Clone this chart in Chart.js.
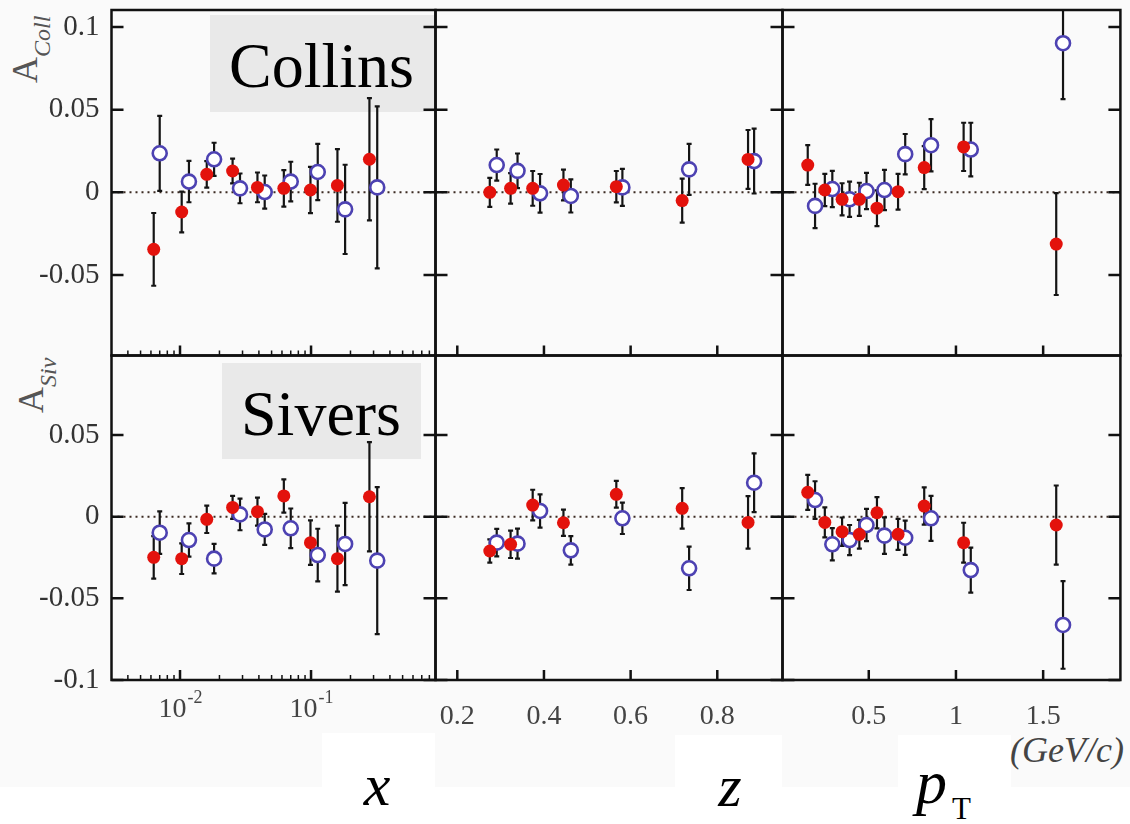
<!DOCTYPE html>
<html><head><meta charset="utf-8">
<script src="https://cdn.jsdelivr.net/npm/chart.js@4.4.1/dist/chart.umd.min.js"></script>
<style>
html,body{margin:0;padding:0;background:#fff;}
#page{position:relative;width:1130px;height:824px;overflow:hidden;font-family:'Liberation Serif','Times New Roman',serif;}
.abs{position:absolute;white-space:nowrap;}
canvas{position:absolute;left:0;top:0;}
</style></head><body><div id="page">
<div class="abs" style="left:0;top:0;width:1130px;height:787px;background:#fafafa"></div>
<div class="abs" style="left:322px;top:733px;width:113px;height:91px;background:#fff"></div>
<div class="abs" style="left:675px;top:735px;width:107px;height:89px;background:#fff"></div>
<div class="abs" style="left:898px;top:735px;width:113px;height:89px;background:#fff"></div>

<div class="abs" style="left:210px;top:15px;width:225px;height:97px;background:#e9e9e9"></div>
<div class="abs" style="left:229px;top:34px;font-size:64px;line-height:64px;color:#000">Collins</div>
<div class="abs" style="left:222px;top:363px;width:199px;height:96px;background:#e9e9e9"></div>
<div class="abs" style="left:241px;top:382px;font-size:64px;line-height:64px;color:#000">Sivers</div>

<div class="abs" style="left:7px;top:83px;font-size:36px;line-height:36px;color:#555;transform-origin:0 0;transform:rotate(-90deg)">A<span style="position:relative;top:13px;font-size:24px;font-style:italic">Coll</span></div>
<div class="abs" style="left:13px;top:413px;font-size:36px;line-height:36px;color:#555;transform-origin:0 0;transform:rotate(-90deg)">A<span style="position:relative;top:13px;font-size:24px;font-style:italic">Siv</span></div>

<div class="abs" style="left:1010px;top:732px;font-size:36px;line-height:36px;font-style:italic;color:#444">(GeV/c)</div>
<div class="abs" style="left:327px;top:755px;width:100px;text-align:center;font-size:60px;line-height:60px;font-style:italic;color:#000">x</div>
<div class="abs" style="left:680px;top:756px;width:100px;text-align:center;font-size:60px;line-height:60px;font-style:italic;color:#000">z</div>
<div class="abs" style="left:916px;top:751px;font-size:62px;line-height:62px;color:#000"><span style="font-style:italic">p</span><span style="position:relative;top:16px;left:5px;font-size:31px;">T</span></div>

<canvas id="c0" width="1130" height="824"></canvas>
<canvas id="c1" width="1130" height="824"></canvas>
<canvas id="c2" width="1130" height="824"></canvas>
<canvas id="c3" width="1130" height="824"></canvas>
<canvas id="c4" width="1130" height="824"></canvas>
<canvas id="c5" width="1130" height="824"></canvas>
</div>
<script>
// ---- tick values ----
const yTicksTop = [0.1, 0.05, 0, -0.05];
const yTicksBottom = [0.05, 0, -0.05, -0.1];
const xLogMajorTicks = [0.01, 0.1];
const xLogTickLabels = [['10', '-2'], ['10', '-1']];
const zTicks = [0.2, 0.4, 0.6, 0.8];
const ptTicks = [0.5, 1, 1.5];

// ---- bin centres ----
const xBinsRed  = [0.0063, 0.0103, 0.0160, 0.0252, 0.0390, 0.0620, 0.0990, 0.159, 0.279];
const xBinsBlue = [0.0070, 0.0117, 0.0182, 0.0287, 0.0443, 0.0700, 0.1125, 0.182, 0.320];
const zBinsRed  = [0.275, 0.323, 0.374, 0.445, 0.567, 0.719, 0.871];
const zBinsBlue = [0.291, 0.339, 0.391, 0.462, 0.581, 0.735, 0.885];
const ptBinsRed  = [0.150, 0.248, 0.347, 0.446, 0.547, 0.668, 0.818, 1.044, 1.575];
const ptBinsBlue = [0.192, 0.291, 0.390, 0.487, 0.590, 0.709, 0.857, 1.085, 1.614];

// ---- Collins ----
const collXRed     = [-0.0345, -0.0119, 0.0109, 0.0129, 0.0030, 0.0024, 0.0014, 0.0042, 0.0200];
const collXRedErr  = [0.0220, 0.0123, 0.0080, 0.0075, 0.0090, 0.0110, 0.0140, 0.0220, 0.0370];
const collXBlue    = [0.0236, 0.0065, 0.0200, 0.0024, 0.0002, 0.0065, 0.0123, -0.0103, 0.0030];
const collXBlueErr = [0.0227, 0.0125, 0.0100, 0.0090, 0.0100, 0.0120, 0.0170, 0.0270, 0.0490];
const collZRed     = [0.0000, 0.0024, 0.0024, 0.0044, 0.0034, -0.0050, 0.0199];
const collZRedErr  = [0.0088, 0.0092, 0.0105, 0.0093, 0.0095, 0.0133, 0.0178];
const collZBlue    = [0.0165, 0.0130, -0.0006, -0.0022, 0.0030, 0.0139, 0.0189];
const collZBlueErr = [0.0094, 0.0105, 0.0117, 0.0100, 0.0112, 0.0154, 0.0196];
const collPtRed     = [0.0165, 0.0014, -0.0042, -0.0042, -0.0096, 0.0004, 0.0150, 0.0275, -0.0313];
const collPtRedErr  = [0.0120, 0.0098, 0.0097, 0.0100, 0.0108, 0.0108, 0.0130, 0.0146, 0.0308];
const collPtBlue    = [-0.0082, 0.0020, -0.0042, 0.0008, 0.0014, 0.0231, 0.0285, 0.0259, 0.0902];
const collPtBlueErr = [0.0134, 0.0110, 0.0107, 0.0110, 0.0122, 0.0122, 0.0158, 0.0162, 0.0338];

// ---- Sivers ----
const sivXRed     = [-0.0249, -0.0257, -0.0016, 0.0057, 0.0031, 0.0127, -0.0159, -0.0257, 0.0122];
const sivXRedErr  = [0.0130, 0.0094, 0.0084, 0.0071, 0.0086, 0.0102, 0.0136, 0.0202, 0.0334];
const sivXBlue    = [-0.0098, -0.0143, -0.0257, 0.0014, -0.0078, -0.0071, -0.0235, -0.0167, -0.0269];
const sivXBlueErr = [0.0130, 0.0102, 0.0090, 0.0097, 0.0095, 0.0121, 0.0161, 0.0252, 0.0450];
const sivZRed     = [-0.0210, -0.0169, 0.0071, -0.0037, 0.0137, 0.0051, -0.0035];
const sivZRedErr  = [0.0071, 0.0084, 0.0094, 0.0080, 0.0082, 0.0124, 0.0161];
const sivZBlue    = [-0.0159, -0.0165, 0.0035, -0.0206, -0.0010, -0.0316, 0.0208];
const sivZBlueErr = [0.0084, 0.0092, 0.0102, 0.0087, 0.0096, 0.0133, 0.0180];
const sivPtRed     = [0.0149, -0.0035, -0.0092, -0.0108, 0.0024, -0.0108, 0.0065, -0.0159, -0.0051];
const sivPtRedErr  = [0.0107, 0.0092, 0.0087, 0.0088, 0.0096, 0.0095, 0.0114, 0.0122, 0.0242];
const sivPtBlue    = [0.0102, -0.0169, -0.0143, -0.0051, -0.0116, -0.0129, -0.0010, -0.0327, -0.0663];
const sivPtBlueErr = [0.0115, 0.0099, 0.0092, 0.0099, 0.0112, 0.0105, 0.0138, 0.0138, 0.0268];

// ---- layout ----
const W = 1130, H = 824, Y_AXIS_W = 80, X_AXIS_H = 60;
const COLS = [
  {l: 111.5, r: 435.5, type: 'logarithmic', min: 0.0030, max: 0.891, ticks: xLogMajorTicks},
  {l: 435.5, r: 782.5, type: 'linear', min: 0.1497, max: 0.9505, ticks: zTicks},
  {l: 782.5, r: 1128, type: 'linear', min: 0.0053, max: 1.943, ticks: ptTicks}
];
const ROWS = [
  {t: 10, b: 355.5, min: -0.0987, max: 0.1103, ticks: yTicksTop},
  {t: 355.5, b: 680, min: -0.1, max: 0.0987, ticks: yTicksBottom}
];
const RED = '#e3120c', BLUE = '#4d42b2';
const SERIF = "'Liberation Serif','Times New Roman',serif";

function pts(xs, ys, es) { return xs.map((x, i) => ({x: x, y: ys[i], e: es[i]})); }

const decor = {
  id: 'decor',
  beforeDatasetsDraw(chart) {
    const {ctx, chartArea: a, scales: {x, y}} = chart;
    ctx.save();
    ctx.beginPath(); ctx.rect(a.left, a.top, a.right - a.left, a.bottom - a.top); ctx.clip();
    const y0 = y.getPixelForValue(0);
    ctx.setLineDash([2, 4]); ctx.lineWidth = 2; ctx.strokeStyle = '#3b2a22';
    ctx.beginPath(); ctx.moveTo(a.left, y0); ctx.lineTo(a.right, y0); ctx.stroke();
    ctx.setLineDash([]);
    chart.data.datasets.forEach((ds, i) => {
      const meta = chart.getDatasetMeta(i);
      meta.data.forEach((el, j) => {
        const d = ds.data[j];
        const yt = y.getPixelForValue(d.y + d.e), yb = y.getPixelForValue(d.y - d.e);
        ctx.lineWidth = 2.2; ctx.strokeStyle = '#141414';
        ctx.beginPath();
        ctx.moveTo(el.x, yt); ctx.lineTo(el.x, yb);
        ctx.moveTo(el.x - 2.5, yt); ctx.lineTo(el.x + 2.5, yt);
        ctx.moveTo(el.x - 2.5, yb); ctx.lineTo(el.x + 2.5, yb);
        ctx.stroke();
      });
    });
    ctx.restore();
  },
  afterDraw(chart, args, o) {
    const {ctx, chartArea: a, scales: {x, y}} = chart;
    ctx.save();
    ctx.strokeStyle = '#111'; ctx.lineWidth = 2.5;
    ctx.beginPath();
    o.yTicks.forEach(v => {
      const py = y.getPixelForValue(v);
      ctx.moveTo(a.left, py); ctx.lineTo(a.left + 12, py);
      ctx.moveTo(a.right, py); ctx.lineTo(a.right - 12, py);
    });
    o.xTicks.forEach(v => {
      const px = x.getPixelForValue(v);
      ctx.moveTo(px, a.bottom); ctx.lineTo(px, a.bottom - 10);
    });
    ctx.stroke();
    if (o.log) {
      ctx.lineWidth = 1.5; ctx.beginPath();
      for (let d = -3; d <= -1; d++) {
        for (let m = 2; m <= 9; m++) {
          const v = m * Math.pow(10, d);
          if (v <= x.min || v >= x.max) continue;
          const px = x.getPixelForValue(v);
          ctx.moveTo(px, a.bottom); ctx.lineTo(px, a.bottom - 5);
        }
      }
      ctx.stroke();
    }
    ctx.lineWidth = 2.5; ctx.strokeStyle = '#111';
    ctx.strokeRect(a.left, a.top, a.right - a.left, a.bottom - a.top);
    if (o.logLabels) {
      ctx.fillStyle = '#444'; ctx.textBaseline = 'alphabetic';
      xLogMajorTicks.forEach((v, i) => {
        const px = x.getPixelForValue(v);
        const [base, sup] = xLogTickLabels[i];
        ctx.font = '28px ' + SERIF; const w1 = ctx.measureText(base).width;
        ctx.font = '18px ' + SERIF; const w2 = ctx.measureText(sup).width;
        const sx = px - (w1 + w2) / 2;
        ctx.font = '28px ' + SERIF; ctx.fillText(base, sx, 717);
        ctx.font = '18px ' + SERIF; ctx.fillText(sup, sx + w1 + 1, 703);
      });
    }
    ctx.restore();
  }
};

const panels = [
  {r: 0, c: 0, red: pts(xBinsRed, collXRed, collXRedErr), blue: pts(xBinsBlue, collXBlue, collXBlueErr)},
  {r: 0, c: 1, red: pts(zBinsRed, collZRed, collZRedErr), blue: pts(zBinsBlue, collZBlue, collZBlueErr)},
  {r: 0, c: 2, red: pts(ptBinsRed, collPtRed, collPtRedErr), blue: pts(ptBinsBlue, collPtBlue, collPtBlueErr)},
  {r: 1, c: 0, red: pts(xBinsRed, sivXRed, sivXRedErr), blue: pts(xBinsBlue, sivXBlue, sivXBlueErr)},
  {r: 1, c: 1, red: pts(zBinsRed, sivZRed, sivZRedErr), blue: pts(zBinsBlue, sivZBlue, sivZBlueErr)},
  {r: 1, c: 2, red: pts(ptBinsRed, sivPtRed, sivPtRedErr), blue: pts(ptBinsBlue, sivPtBlue, sivPtBlueErr)}
];

panels.forEach((p, idx) => {
  const col = COLS[p.c], row = ROWS[p.r];
  const showY = p.c === 0;
  const showX = p.r === 1 && col.type === 'linear';
  const pad = {
    left: showY ? col.l - Y_AXIS_W : col.l,
    right: W - col.r,
    top: row.t,
    bottom: showX ? H - row.b - X_AXIS_H : H - row.b
  };
  new Chart(document.getElementById('c' + idx), {
    type: 'scatter',
    data: {
      datasets: [
        {label: 'red', data: p.red, pointRadius: 6.5, pointHoverRadius: 6.5, backgroundColor: RED, borderColor: RED, borderWidth: 0, pointBorderWidth: 0},
        {label: 'blue', data: p.blue, pointRadius: 7, pointHoverRadius: 7, backgroundColor: '#ffffff', borderColor: BLUE, pointBorderWidth: 2.6, borderWidth: 2.6}
      ]
    },
    options: {
      responsive: false, animation: false, devicePixelRatio: 1,
      events: [],
      layout: {padding: pad},
      plugins: {
        legend: {display: false}, tooltip: {enabled: false},
        decor: {yTicks: row.ticks, xTicks: col.ticks, log: col.type === 'logarithmic', logLabels: col.type === 'logarithmic' && p.r === 1}
      },
      scales: {
        x: {
          type: col.type, min: col.min, max: col.max, position: 'bottom',
          display: showX,
          grid: {display: false}, border: {display: false},
          ticks: {font: {family: SERIF, size: 28}, color: '#444', padding: 12, maxRotation: 0, autoSkip: false,
                  callback: v => String(v)},
          afterBuildTicks: s => { s.ticks = col.ticks.map(v => ({value: v})); },
          afterFit: s => { s.height = showX ? X_AXIS_H : 0; s.paddingLeft = 0; s.paddingRight = 0; s.paddingTop = 0; s.paddingBottom = 0; }
        },
        y: {
          type: 'linear', min: row.min, max: row.max, position: 'left',
          display: showY,
          grid: {display: false}, border: {display: false},
          ticks: {font: {family: SERIF, size: 29}, color: '#333', padding: 4, autoSkip: false,
                  callback: v => String(v)},
          afterBuildTicks: s => { s.ticks = row.ticks.map(v => ({value: v})); },
          afterFit: s => { s.width = showY ? Y_AXIS_W : 0; s.paddingLeft = 0; s.paddingRight = 0; s.paddingTop = 0; s.paddingBottom = 0; }
        }
      }
    },
    plugins: [decor]
  });
});
</script>
</body></html>
